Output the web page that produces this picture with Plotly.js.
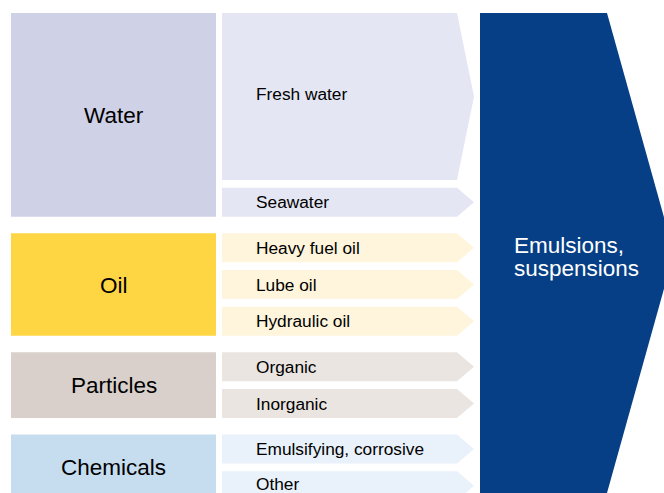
<!DOCTYPE html>
<html><head><meta charset="utf-8">
<script src="https://cdn.plot.ly/plotly-3.0.1.min.js"></script>
<style>html,body{margin:0;padding:0;background:#fff}#chart{width:664px;height:493px}</style>
</head><body><div id="chart"></div>
<script>
// ---- data ----
const groups = ['Water', 'Oil', 'Particles', 'Chemicals'];
const items = ['Fresh water', 'Seawater', 'Heavy fuel oil', 'Lube oil', 'Hydraulic oil', 'Organic', 'Inorganic', 'Emulsifying, corrosive', 'Other'];
const itemGroup = [0, 0, 1, 1, 1, 2, 2, 3, 3];
const resultLines = ['Emulsions,', 'suspensions'];

// ---- styles ----
const groupColors = ['#cfd1e7', '#fed543', '#d9d0cb', '#c6ddf0'];
const itemColors = ['#e4e6f3', '#fff5dc', '#eae5e1', '#e9f1fa'];
const resultColor = '#063f85';
const FONT = 'Liberation Sans, Arial, Helvetica, sans-serif';

// ---- geometry ----
const G = {top: 13, rowH: 29, freshH: 167, rowGap: 7.7, groupGap: 16.6,
  boxX0: 11, boxX1: 216, arX0: 222, arBody: 457, arTip: 474,
  bigX0: 480, bigBody: 607, bigTip: 674, bigBottom: 493, W: 664, H: 493};

const rowTop = [], rowBot = [];
let y = G.top;
items.forEach((it, i) => {
  if (i > 0) y += (itemGroup[i] !== itemGroup[i - 1]) ? G.groupGap : G.rowGap;
  const h = i === 0 ? G.freshH : G.rowH;
  rowTop.push(y); rowBot.push(y + h); y += h;
});

const traces = [];
const annotations = [];
function poly(xs, ys, color) {
  traces.push({type: 'scatter', mode: 'lines', x: xs.concat([xs[0]]), y: ys.concat([ys[0]]),
    fill: 'toself', fillcolor: color, line: {width: 0, color: color}, hoverinfo: 'skip', showlegend: false});
}

// group boxes
groups.forEach((g, gi) => {
  const idx = itemGroup.map((v, i) => v === gi ? i : -1).filter(i => i >= 0);
  const t = Math.min(...idx.map(i => rowTop[i]));
  const b = Math.max(...idx.map(i => rowBot[i]));
  poly([G.boxX0, G.boxX1, G.boxX1, G.boxX0], [t, t, b, b], groupColors[gi]);
  annotations.push({x: (G.boxX0 + G.boxX1) / 2, y: (t + b) / 2 + 0.5, xref: 'x', yref: 'y', text: g,
    showarrow: false, xanchor: 'center', yanchor: 'middle', borderpad: 0,
    font: {family: FONT, size: 22.5, color: '#000'}});
});

// item arrows
items.forEach((it, i) => {
  const t = rowTop[i], b = rowBot[i], m = (t + b) / 2;
  poly([G.arX0, G.arBody, G.arTip, G.arBody, G.arX0], [t, t, m, b, b], itemColors[itemGroup[i]]);
  let ty = i === 0 ? m - 3 : m;
  if (ty > G.H - 10) ty = G.H - 9;
  annotations.push({x: 255, y: ty, xref: 'x', yref: 'y', text: it, showarrow: false,
    xanchor: 'left', yanchor: 'middle', borderpad: 0,
    font: {family: FONT, size: 17.3, color: '#000'}});
});

// result arrow
const bm = (G.top + G.bigBottom) / 2;
poly([G.bigX0, G.bigBody, G.bigTip, G.bigBody, G.bigX0], [G.top, G.top, bm, G.bigBottom, G.bigBottom], resultColor);
resultLines.forEach((t, k) => {
  annotations.push({x: 513, y: 245 + k * 23.5, xref: 'x', yref: 'y', text: t, showarrow: false,
    xanchor: 'left', yanchor: 'middle', borderpad: 0, height: 23.4,
    font: {family: FONT, size: 22.5, color: '#fff'}});
});

const layout = {
  width: G.W, height: G.H, margin: {l: 0, r: 0, t: 0, b: 0},
  paper_bgcolor: '#fff', plot_bgcolor: '#fff',
  xaxis: {range: [0, G.W], visible: false, fixedrange: true},
  yaxis: {range: [G.H, 0], visible: false, fixedrange: true},
  annotations: annotations, showlegend: false
};
Plotly.newPlot('chart', traces, layout, {displayModeBar: false, staticPlot: true});
</script>
</body></html>
